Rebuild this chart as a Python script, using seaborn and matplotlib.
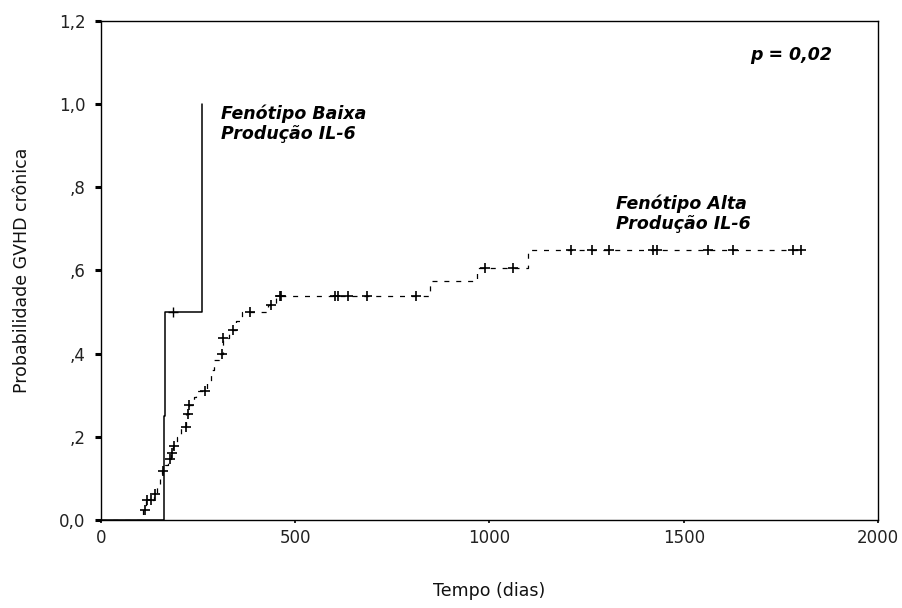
import numpy as np
import pandas as pd
import seaborn as sns
import matplotlib.pyplot as plt

# Kaplan-Meier style curves (1 - survival)
baixa_times = [0, 162, 166, 260]
baixa_probs = [0.0, 0.25, 0.50, 1.0]
baixa_censor_times = [186]

alta_times = [0, 107, 116, 136, 145, 152, 157, 165, 172, 180, 186, 195, 205, 220, 226,
              240, 245, 272, 282, 292, 305, 314, 330, 348, 362, 430, 450, 847, 967, 1098]
alta_probs = [0.0, 0.024, 0.048, 0.062, 0.08, 0.10, 0.118, 0.132, 0.146, 0.16, 0.178, 0.20,
              0.224, 0.255, 0.276, 0.295, 0.31, 0.335, 0.36, 0.385, 0.40, 0.437, 0.458,
              0.478, 0.50, 0.517, 0.539, 0.575, 0.605, 0.649]
alta_censor_times = [113, 119, 128, 139, 159, 178, 182, 189, 218, 223, 227, 268, 311, 315,
                     339, 383, 437, 461, 463, 602, 609, 637, 684, 812, 988, 1061, 1211,
                     1265, 1308, 1422, 1431, 1563, 1628, 1782, 1803]

x_ticks = [0, 500, 1000, 1500, 2000]
y_ticks = [0.0, 0.2, 0.4, 0.6, 0.8, 1.0, 1.2]
y_tick_labels = ['0,0', ',2', ',4', ',6', ',8', '1,0', '1,2']


def censor_levels(times, probs, censors):
    idx = np.searchsorted(times, censors, side='right') - 1
    return np.array(probs)[idx]


sns.set_style("ticks")
plt.rcParams['font.family'] = ['DejaVu Sans']

fig = plt.figure(figsize=(9.03, 6.08), dpi=100)
ax = fig.add_axes([0.1118, 0.1447, 0.8605, 0.8208])

# curves
df_alta = pd.DataFrame({'t': alta_times + [max(alta_censor_times)],
                        'p': alta_probs + [alta_probs[-1]]})
df_baixa = pd.DataFrame({'t': baixa_times, 'p': baixa_probs})

sns.lineplot(data=df_alta, x='t', y='p', ax=ax, estimator=None, sort=False,
             drawstyle='steps-post', color='black', linewidth=0.9,
             linestyle=(0, (4, 5.5)))
sns.lineplot(data=df_baixa, x='t', y='p', ax=ax, estimator=None, sort=False,
             drawstyle='steps-post', color='black', linewidth=1.1)

# censored marks
df_alta_c = pd.DataFrame({'t': alta_censor_times,
                          'p': censor_levels(alta_times, alta_probs, alta_censor_times)})
df_baixa_c = pd.DataFrame({'t': baixa_censor_times,
                           'p': censor_levels(baixa_times, baixa_probs, baixa_censor_times)})
sns.scatterplot(data=df_alta_c, x='t', y='p', ax=ax, marker='+', s=60,
                color='black', linewidth=1.2, zorder=3)
sns.scatterplot(data=df_baixa_c, x='t', y='p', ax=ax, marker='+', s=60,
                color='black', linewidth=1.0, zorder=3)

ax.set_xlim(0, 2000)
ax.set_ylim(0, 1.2)
ax.set_xticks(x_ticks)
ax.set_xticklabels([str(v) for v in x_ticks])
ax.set_yticks(y_ticks)
ax.set_yticklabels(y_tick_labels)

for s in ax.spines.values():
    s.set_visible(True)
    s.set_linewidth(1.0)
    s.set_color('black')

ax.tick_params(axis='y', direction='out', length=4, width=2.2, pad=7,
               labelsize=12, colors='black', labelcolor='#222222')
ax.tick_params(axis='x', direction='out', length=2.5, width=1.2, pad=4,
               labelsize=12, colors='black', labelcolor='#222222')

ax.set_xlabel('Tempo (dias)', fontsize=12.5, labelpad=25, color='#111111')
ax.set_ylabel('Probabilidade GVHD crônica', fontsize=12.5, labelpad=20, color='#111111')

lbl = dict(fontsize=12.5, fontweight='bold', fontstyle='italic', color='black')
ax.text(309, 0.953, 'Fenótipo Baixa\nProdução IL-6', ha='left', va='center',
        linespacing=1.15, **lbl)
ax.text(1326, 0.736, 'Fenótipo Alta\nProdução IL-6', ha='left', va='center',
        linespacing=1.15, **lbl)
ax.text(1882, 1.118, 'p = 0,02', ha='right', va='center', **lbl)

fig.savefig('out.png', dpi=100)
